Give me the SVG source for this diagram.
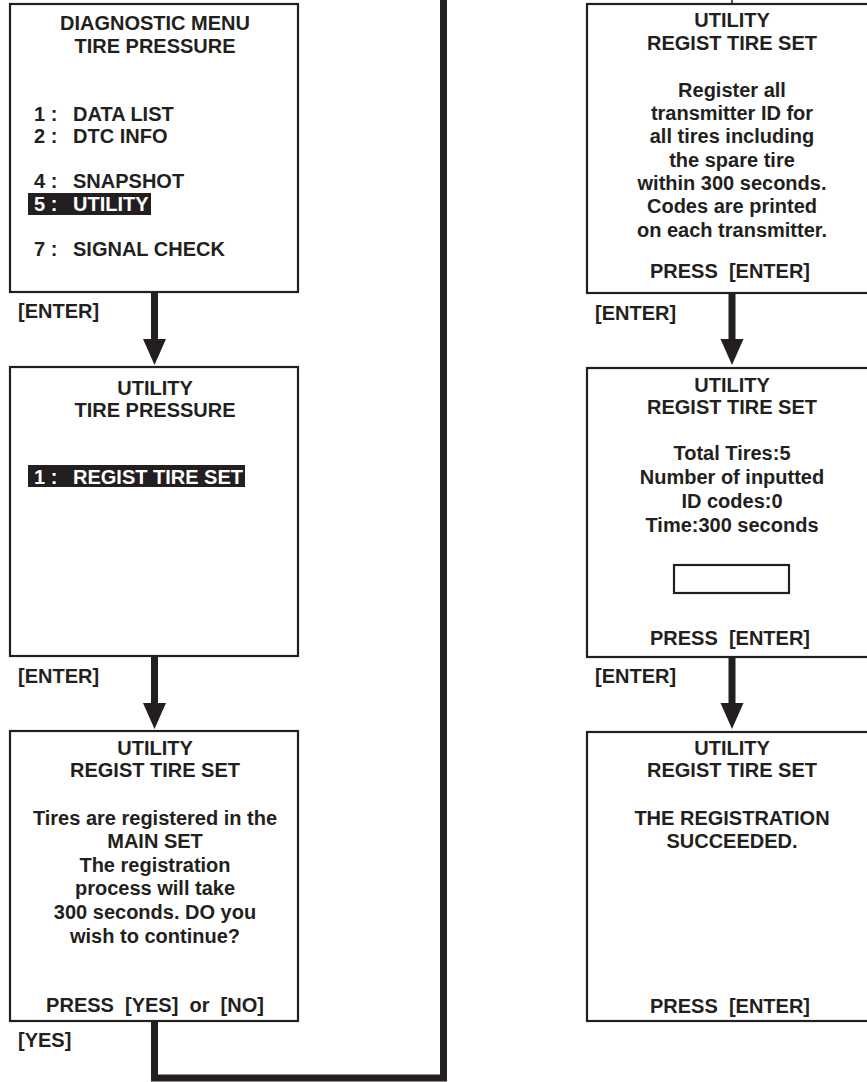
<svg xmlns="http://www.w3.org/2000/svg" width="867" height="1082" viewBox="0 0 867 1082">
<style>
.box{fill:#fff;stroke:#231f20;stroke-width:2.2}
text{font-family:"Liberation Sans",Arial,Helvetica,sans-serif;font-weight:bold;font-size:20px;fill:#231f20;white-space:pre}
.c{text-anchor:middle}
.inv{fill:#fff}
.hl{fill:#231f20}
.shaft{stroke:#231f20;stroke-width:7;fill:none}
.head{fill:#231f20}
</style>
<rect width="867" height="1082" fill="#fff"/>

<g id="connectors">
  <path class="shaft" d="M154.5 1021 V1078 H443.5 V0"/>
  <line x1="732" y1="0" x2="732" y2="3" stroke="#231f20" stroke-width="1.5"/>
  <line class="shaft" x1="154.5" y1="292" x2="154.5" y2="342"/>
  <polygon class="head" points="143,339 166,339 154.5,365"/>
  <line class="shaft" x1="154.5" y1="656" x2="154.5" y2="706"/>
  <polygon class="head" points="143,703 166,703 154.5,729"/>
  <line class="shaft" x1="732" y1="293" x2="732" y2="342"/>
  <polygon class="head" points="720.5,339 743.5,339 732,365"/>
  <line class="shaft" x1="732" y1="657" x2="732" y2="706"/>
  <polygon class="head" points="720.5,703 743.5,703 732,729"/>
  <text x="18" y="318">[ENTER]</text>
  <text x="18" y="683">[ENTER]</text>
  <text x="18" y="1047">[YES]</text>
  <text x="595" y="320">[ENTER]</text>
  <text x="595" y="683">[ENTER]</text>
</g>

<g id="diag-menu">
  <rect class="box" x="10" y="4" width="288" height="288"/>
  <text class="c" x="155" y="30">DIAGNOSTIC MENU</text>
  <text class="c" x="155" y="53">TIRE PRESSURE</text>
  <text x="34" y="121">1 :</text><text x="73" y="121">DATA LIST</text>
  <text x="34" y="143">2 :</text><text x="73" y="143">DTC INFO</text>
  <text x="34" y="188">4 :</text><text x="73" y="188">SNAPSHOT</text>
  <rect class="hl" x="28" y="193" width="123" height="22"/>
  <text class="inv" x="34" y="211">5 :</text><text class="inv" x="73" y="211">UTILITY</text>
  <text x="34" y="256">7 :</text><text x="73" y="256">SIGNAL CHECK</text>
</g>

<g id="utility-menu">
  <rect class="box" x="10" y="367" width="288" height="289"/>
  <text class="c" x="155" y="395">UTILITY</text>
  <text class="c" x="155" y="417">TIRE PRESSURE</text>
  <rect class="hl" x="28" y="465" width="217" height="22"/>
  <text class="inv" x="34" y="484">1 :</text><text class="inv" x="73" y="484">REGIST TIRE SET</text>
</g>

<g id="confirm">
  <rect class="box" x="10" y="731" width="288" height="290"/>
  <text class="c" x="155" y="755">UTILITY</text>
  <text class="c" x="155" y="777">REGIST TIRE SET</text>
  <text class="c" x="155" y="825">Tires are registered in the</text>
  <text class="c" x="155" y="848">MAIN SET</text>
  <text class="c" x="155" y="872">The registration</text>
  <text class="c" x="155" y="895">process will take</text>
  <text class="c" x="155" y="919">300 seconds. DO you</text>
  <text class="c" x="155" y="943">wish to continue?</text>
  <text class="c" x="155" y="1012">PRESS  [YES]  or  [NO]</text>
</g>

<g id="register-info">
  <rect class="box" x="587" y="4" width="300" height="289"/>
  <text class="c" x="732" y="27">UTILITY</text>
  <text class="c" x="732" y="50">REGIST TIRE SET</text>
  <text class="c" x="732" y="97">Register all</text>
  <text class="c" x="732" y="120">transmitter ID for</text>
  <text class="c" x="732" y="143">all tires including</text>
  <text class="c" x="732" y="167">the spare tire</text>
  <text class="c" x="732" y="190">within 300 seconds.</text>
  <text class="c" x="732" y="213">Codes are printed</text>
  <text class="c" x="732" y="237">on each transmitter.</text>
  <text class="c" x="730" y="278">PRESS  [ENTER]</text>
</g>

<g id="register-input">
  <rect class="box" x="587" y="368" width="300" height="289"/>
  <text class="c" x="732" y="392">UTILITY</text>
  <text class="c" x="732" y="414">REGIST TIRE SET</text>
  <text class="c" x="732" y="460">Total Tires:5</text>
  <text class="c" x="732" y="484">Number of inputted</text>
  <text class="c" x="732" y="508">ID codes:0</text>
  <text class="c" x="732" y="532">Time:300 seconds</text>
  <rect class="box" x="674" y="565" width="115" height="28"/>
  <text class="c" x="730" y="645">PRESS  [ENTER]</text>
</g>

<g id="register-done">
  <rect class="box" x="587" y="732" width="300" height="289"/>
  <text class="c" x="732" y="755">UTILITY</text>
  <text class="c" x="732" y="777">REGIST TIRE SET</text>
  <text class="c" x="732" y="825">THE REGISTRATION</text>
  <text class="c" x="732" y="848">SUCCEEDED.</text>
  <text class="c" x="730" y="1013">PRESS  [ENTER]</text>
</g>
</svg>
